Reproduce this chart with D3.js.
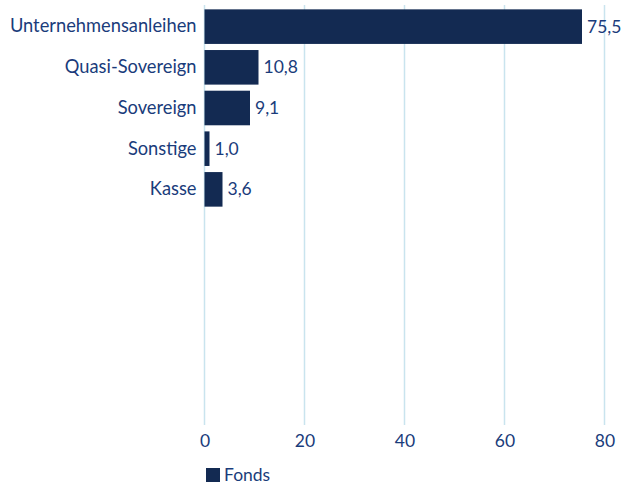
<!DOCTYPE html>
<html>
<head>
<meta charset="utf-8">
<script src="https://cdn.jsdelivr.net/npm/d3@7"></script>
<style>
  body { margin: 0; background: #fff; }
  svg { display: block; font-family: Lato, "Open Sans", sans-serif; }
</style>
</head>
<body>
<div id="chart"></div>
<script>
// data
const categories = ["Unternehmensanleihen", "Quasi-Sovereign", "Sovereign", "Sonstige", "Kasse"];
const fondsValues = [75.5, 10.8, 9.1, 1.0, 3.6];
const xTicks = [0, 20, 40, 60, 80];
const seriesName = "Fonds";

const width = 622, height = 486;
const barColor = "#132a52";
const textColor = "#1a3c7b";
const gridColor = "#c9e4ee";

const svg = d3.select("#chart").append("svg")
    .attr("width", width)
    .attr("height", height);

const x = d3.scaleLinear().domain([0, 80]).range([204.5, 604.5]);
const y = d3.scaleBand()
    .domain(categories)
    .range([6.3, 209.7])
    .paddingInner(0.15)
    .paddingOuter(0.075);

const gridTop = 5, gridBottom = 425;

// vertical gridlines
svg.append("g").selectAll("line")
    .data(xTicks)
    .join("line")
    .attr("x1", d => x(d)).attr("x2", d => x(d))
    .attr("y1", gridTop).attr("y2", gridBottom)
    .attr("stroke", gridColor)
    .attr("stroke-width", 1.5);

// x axis labels
const xAxis = d3.axisBottom(x).tickValues(xTicks).tickSize(0).tickPadding(0);
svg.append("g")
    .attr("transform", `translate(0,${gridBottom + 10})`)
    .call(xAxis)
    .call(g => g.select(".domain").remove())
    .call(g => g.selectAll("text")
        .attr("fill", textColor)
        .attr("font-size", 17.5)
        .attr("font-family", "Lato, 'Open Sans', sans-serif"));

// bars
const rows = categories.map((c, i) => ({ cat: c, value: fondsValues[i] }));

svg.append("g").selectAll("rect")
    .data(rows)
    .join("rect")
    .attr("x", x(0))
    .attr("y", d => y(d.cat))
    .attr("width", d => x(d.value) - x(0))
    .attr("height", y.bandwidth())
    .attr("fill", barColor);

// category labels
const yAxis = d3.axisLeft(y).tickSize(0).tickPadding(8);
svg.append("g")
    .attr("transform", `translate(${x(0)},0)`)
    .call(yAxis)
    .call(g => g.select(".domain").remove())
    .call(g => g.selectAll("text")
        .attr("fill", textColor)
        .attr("font-size", 18.3)
        .attr("font-family", "Lato, 'Open Sans', sans-serif"));

// value labels
const fmt = d => d3.format(".1f")(d).replace(".", ",");
svg.append("g").selectAll("text")
    .data(rows)
    .join("text")
    .attr("x", d => x(d.value) + 5)
    .attr("y", d => y(d.cat) + y.bandwidth() / 2)
    .attr("dy", "0.35em")
    .attr("fill", textColor)
    .attr("font-size", 17.5)
    .text(d => fmt(d.value));

// legend
const legend = svg.append("g").attr("transform", "translate(206,468)");
legend.append("rect")
    .attr("width", 14).attr("height", 14)
    .attr("fill", barColor);
legend.append("text")
    .attr("x", 18).attr("y", 7)
    .attr("dy", "0.35em")
    .attr("fill", textColor)
    .attr("font-size", 17.5)
    .text(seriesName);
</script>
</body>
</html>
